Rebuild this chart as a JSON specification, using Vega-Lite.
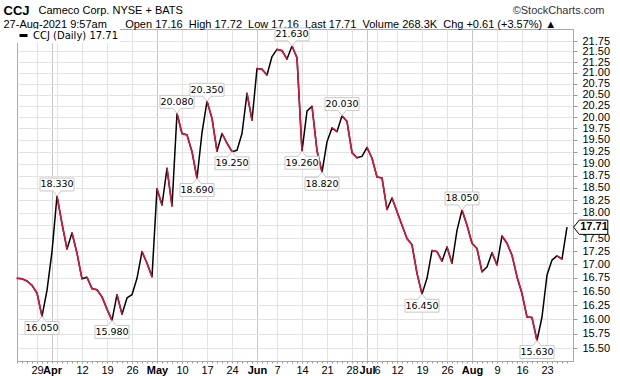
{
  "$schema": "https://vega.github.io/schema/vega-lite/v6.json",
  "width": 556,
  "height": 332,
  "autosize": {"type": "none"},
  "padding": {"left": 17, "top": 29, "right": 47, "bottom": 15},
  "background": "white",
  "datasets": {
    "prices": [
      {"i": 0, "date": "2021-03-23", "close": 16.74},
      {"i": 1, "date": "2021-03-24", "close": 16.73},
      {"i": 2, "date": "2021-03-25", "close": 16.69},
      {"i": 3, "date": "2021-03-26", "close": 16.61},
      {"i": 4, "date": "2021-03-29", "close": 16.47},
      {"i": 5, "date": "2021-03-30", "close": 16.05},
      {"i": 6, "date": "2021-03-31", "close": 16.52},
      {"i": 7, "date": "2021-04-01", "close": 17.24},
      {"i": 8, "date": "2021-04-05", "close": 18.33},
      {"i": 9, "date": "2021-04-06", "close": 17.78},
      {"i": 10, "date": "2021-04-07", "close": 17.29},
      {"i": 11, "date": "2021-04-08", "close": 17.60},
      {"i": 12, "date": "2021-04-09", "close": 17.21},
      {"i": 13, "date": "2021-04-12", "close": 16.73},
      {"i": 14, "date": "2021-04-13", "close": 16.76},
      {"i": 15, "date": "2021-04-14", "close": 16.55},
      {"i": 16, "date": "2021-04-15", "close": 16.53},
      {"i": 17, "date": "2021-04-16", "close": 16.40},
      {"i": 18, "date": "2021-04-19", "close": 16.18},
      {"i": 19, "date": "2021-04-20", "close": 15.98},
      {"i": 20, "date": "2021-04-21", "close": 16.44},
      {"i": 21, "date": "2021-04-22", "close": 16.09},
      {"i": 22, "date": "2021-04-23", "close": 16.38},
      {"i": 23, "date": "2021-04-26", "close": 16.44},
      {"i": 24, "date": "2021-04-27", "close": 16.74},
      {"i": 25, "date": "2021-04-28", "close": 17.24},
      {"i": 26, "date": "2021-04-29", "close": 17.02},
      {"i": 27, "date": "2021-04-30", "close": 16.77},
      {"i": 28, "date": "2021-05-03", "close": 18.48},
      {"i": 29, "date": "2021-05-04", "close": 18.15},
      {"i": 30, "date": "2021-05-05", "close": 18.90},
      {"i": 31, "date": "2021-05-06", "close": 18.13},
      {"i": 32, "date": "2021-05-07", "close": 20.08},
      {"i": 33, "date": "2021-05-10", "close": 19.64},
      {"i": 34, "date": "2021-05-11", "close": 19.61},
      {"i": 35, "date": "2021-05-12", "close": 19.25},
      {"i": 36, "date": "2021-05-13", "close": 18.69},
      {"i": 37, "date": "2021-05-14", "close": 19.66},
      {"i": 38, "date": "2021-05-17", "close": 20.35},
      {"i": 39, "date": "2021-05-18", "close": 19.97},
      {"i": 40, "date": "2021-05-19", "close": 19.26},
      {"i": 41, "date": "2021-05-20", "close": 19.64},
      {"i": 42, "date": "2021-05-21", "close": 19.43},
      {"i": 43, "date": "2021-05-24", "close": 19.25},
      {"i": 44, "date": "2021-05-25", "close": 19.28},
      {"i": 45, "date": "2021-05-26", "close": 19.64},
      {"i": 46, "date": "2021-05-27", "close": 20.53},
      {"i": 47, "date": "2021-05-28", "close": 19.93},
      {"i": 48, "date": "2021-06-01", "close": 21.10},
      {"i": 49, "date": "2021-06-02", "close": 21.08},
      {"i": 50, "date": "2021-06-03", "close": 20.95},
      {"i": 51, "date": "2021-06-04", "close": 21.38},
      {"i": 52, "date": "2021-06-07", "close": 21.55},
      {"i": 53, "date": "2021-06-08", "close": 21.52},
      {"i": 54, "date": "2021-06-09", "close": 21.32},
      {"i": 55, "date": "2021-06-10", "close": 21.63},
      {"i": 56, "date": "2021-06-11", "close": 21.35},
      {"i": 57, "date": "2021-06-14", "close": 19.26},
      {"i": 58, "date": "2021-06-15", "close": 20.13},
      {"i": 59, "date": "2021-06-16", "close": 20.24},
      {"i": 60, "date": "2021-06-17", "close": 19.27},
      {"i": 61, "date": "2021-06-18", "close": 18.82},
      {"i": 62, "date": "2021-06-21", "close": 19.46},
      {"i": 63, "date": "2021-06-22", "close": 19.76},
      {"i": 64, "date": "2021-06-23", "close": 19.68},
      {"i": 65, "date": "2021-06-24", "close": 20.03},
      {"i": 66, "date": "2021-06-25", "close": 19.90},
      {"i": 67, "date": "2021-06-28", "close": 19.23},
      {"i": 68, "date": "2021-06-29", "close": 19.12},
      {"i": 69, "date": "2021-06-30", "close": 19.15},
      {"i": 70, "date": "2021-07-01", "close": 19.34},
      {"i": 71, "date": "2021-07-02", "close": 19.11},
      {"i": 72, "date": "2021-07-06", "close": 18.72},
      {"i": 73, "date": "2021-07-07", "close": 18.70},
      {"i": 74, "date": "2021-07-08", "close": 18.06},
      {"i": 75, "date": "2021-07-09", "close": 18.29},
      {"i": 76, "date": "2021-07-12", "close": 18.02},
      {"i": 77, "date": "2021-07-13", "close": 17.75},
      {"i": 78, "date": "2021-07-14", "close": 17.49},
      {"i": 79, "date": "2021-07-15", "close": 17.37},
      {"i": 80, "date": "2021-07-16", "close": 16.83},
      {"i": 81, "date": "2021-07-19", "close": 16.45},
      {"i": 82, "date": "2021-07-20", "close": 16.74},
      {"i": 83, "date": "2021-07-21", "close": 17.26},
      {"i": 84, "date": "2021-07-22", "close": 17.24},
      {"i": 85, "date": "2021-07-23", "close": 17.06},
      {"i": 86, "date": "2021-07-26", "close": 17.33},
      {"i": 87, "date": "2021-07-27", "close": 17.02},
      {"i": 88, "date": "2021-07-28", "close": 17.65},
      {"i": 89, "date": "2021-07-29", "close": 18.05},
      {"i": 90, "date": "2021-07-30", "close": 17.75},
      {"i": 91, "date": "2021-08-02", "close": 17.40},
      {"i": 92, "date": "2021-08-03", "close": 17.30},
      {"i": 93, "date": "2021-08-04", "close": 16.86},
      {"i": 94, "date": "2021-08-05", "close": 16.95},
      {"i": 95, "date": "2021-08-06", "close": 17.22},
      {"i": 96, "date": "2021-08-09", "close": 16.99},
      {"i": 97, "date": "2021-08-10", "close": 17.54},
      {"i": 98, "date": "2021-08-11", "close": 17.40},
      {"i": 99, "date": "2021-08-12", "close": 17.17},
      {"i": 100, "date": "2021-08-13", "close": 16.77},
      {"i": 101, "date": "2021-08-16", "close": 16.46},
      {"i": 102, "date": "2021-08-17", "close": 16.04},
      {"i": 103, "date": "2021-08-18", "close": 16.03},
      {"i": 104, "date": "2021-08-19", "close": 15.63},
      {"i": 105, "date": "2021-08-20", "close": 16.04},
      {"i": 106, "date": "2021-08-23", "close": 16.80},
      {"i": 107, "date": "2021-08-24", "close": 17.08},
      {"i": 108, "date": "2021-08-25", "close": 17.16},
      {"i": 109, "date": "2021-08-26", "close": 17.10},
      {"i": 110, "date": "2021-08-27", "close": 17.71}
    ],
    "pivots": [
      {"i": 5, "close": 16.05, "kind": "low"},
      {"i": 19, "close": 15.98, "kind": "low"},
      {"i": 36, "close": 18.69, "kind": "low"},
      {"i": 43, "close": 19.25, "kind": "low"},
      {"i": 57, "close": 19.26, "kind": "low"},
      {"i": 61, "close": 18.82, "kind": "low"},
      {"i": 81, "close": 16.45, "kind": "low"},
      {"i": 104, "close": 15.63, "kind": "low"},
      {"i": 8, "close": 18.33, "kind": "high"},
      {"i": 32, "close": 20.08, "kind": "high"},
      {"i": 38, "close": 20.35, "kind": "high"},
      {"i": 55, "close": 21.63, "kind": "high"},
      {"i": 65, "close": 20.03, "kind": "high"},
      {"i": 89, "close": 18.05, "kind": "high"}
    ]
  },
  "resolve": {"axis": {"x": "independent", "y": "independent"}},
  "layer": [
    {
      "data": {"name": "prices"},
      "mark": {"type": "line", "strokeWidth": 1.5, "strokeJoin": "round"},
      "encoding": {
        "x": {
          "field": "i", "type": "quantitative",
          "scale": {"domain": [0, 111.2], "nice": false, "zero": false},
          "axis": {
            "orient": "bottom",
            "title": "27-Aug-2021 9:57am\u00a0\u00a0\u00a0\u00a0\u00a0\u00a0Open 17.16\u00a0\u00a0High 17.72\u00a0\u00a0Low 17.16\u00a0\u00a0Last 17.71\u00a0\u00a0Volume 268.3K\u00a0\u00a0Chg +0.61 (+3.57%) ▲",
            "titleAnchor": null, "titleAlign": "left", "titleBaseline": "alphabetic",
            "titleX": -14, "titleY": -334,
            "titleFont": "Liberation Sans", "titleFontSize": 11, "titleFontWeight": "normal", "titleColor": "#000000",
            "domain": false,
            "values": [0,1,2,3,4,5,6,7,8,9,10,11,12,13,14,15,16,17,18,19,20,21,22,23,24,25,26,27,28,29,30,31,32,33,34,35,36,37,38,39,40,41,42,43,44,45,46,47,48,49,50,51,52,53,54,55,56,57,58,59,60,61,62,63,64,65,66,67,68,69,70,71,72,73,74,75,76,77,78,79,80,81,82,83,84,85,86,87,88,89,90,91,92,93,94,95,96,97,98,99,100,101,102,103,104,105,106,107,108,109,110],
            "labelExpr": "indexof([4,7,13,18,23,28,33,38,43,48,52,57,62,67,70,72,76,81,86,91,96,101,106], datum.value) >= 0 ? ['29','Apr','12','19','26','May','10','17','24','Jun','7','14','21','28','Jul','6','12','19','26','Aug','9','16','23'][indexof([4,7,13,18,23,28,33,38,43,48,52,57,62,67,70,72,76,81,86,91,96,101,106], datum.value)] : ''",
            "labelFontWeight": {"condition": {"test": "indexof([7,28,48,70,91], datum.value) >= 0", "value": "bold"}, "value": "normal"},
            "labelFont": "Liberation Sans",
            "labelFontSize": 11,
            "labelColor": "#000000",
            "labelOverlap": false,
            "labelBound": false,
            "labelFlush": false,
            "labelPadding": 1,
            "tickSize": 2,
            "tickColor": "#9a9a9a",
            "grid": true,
            "gridColor": {"condition": {"test": "indexof([7,28,48,70,91], datum.value) >= 0", "value": "#c6c6c6"}, "value": "#e3e3e3"},
            "gridOpacity": {"condition": {"test": "indexof([4,7,8,13,18,23,28,33,38,43,48,52,57,62,67,70,72,76,81,86,91,96,101,106], datum.value) >= 0", "value": 1}, "value": 0}
          }
        },
        "y": {
          "field": "close", "type": "quantitative",
          "scale": {"type": "log", "domain": [15.28, 22.04], "nice": false, "zero": false},
          "axis": {
            "orient": "right",
            "title": "Cameco Corp. NYSE + BATS",
            "titleAngle": 0, "titleAnchor": null, "titleAlign": "left", "titleBaseline": "alphabetic",
            "titleX": -535, "titleY": -16,
            "titleFont": "Liberation Sans", "titleFontSize": 11, "titleFontWeight": "normal", "titleColor": "#000000",
            "domain": false,
            "values": [15.5,15.75,16,16.25,16.5,16.75,17,17.25,17.5,17.75,18,18.25,18.5,18.75,19,19.25,19.5,19.75,20,20.25,20.5,20.75,21,21.25,21.5,21.75],
            "labelExpr": "datum.value == 17.75 ? '' : format(datum.value, '.2f')",
            "labelFont": "Liberation Sans",
            "labelFontSize": 11,
            "labelColor": "#000000",
            "labelOverlap": false,
            "labelBound": false,
            "labelFlush": false,
            "labelPadding": 5,
            "tickSize": 4,
            "tickColor": "#9a9a9a",
            "grid": true,
            "gridColor": "#e3e3e3"
          }
        },
        "color": {
          "datum": "CCJ (Daily) 17.71",
          "scale": {"range": ["#000000"]},
          "legend": {
            "title": null,
            "orient": "top-left",
            "offset": 0,
            "padding": 1,
            "fillColor": "white",
            "symbolType": "stroke",
            "symbolSize": 64,
            "symbolStrokeWidth": 3,
            "labelFont": "DejaVu Sans",
            "labelFontSize": 10,
            "labelColor": "#000000",
            "labelOffset": 4
          }
        }
      }
    },
    {
      "data": {"name": "prices"},
      "transform": [
        {"window": [{"op": "lag", "field": "close", "as": "prev"}, {"op": "lag", "field": "i", "as": "pi"}], "sort": [{"field": "i"}]},
        {"filter": "datum.prev != null && datum.close < datum.prev"}
      ],
      "mark": {"type": "rule", "color": "#d8173d", "strokeWidth": 1.6, "strokeCap": "round"},
      "encoding": {
        "x": {
          "field": "pi", "type": "quantitative",
          "scale": {"domain": [0, 111.2], "nice": false, "zero": false},
          "axis": {
            "orient": "top", "labels": false, "ticks": false, "domain": false, "grid": false,
            "title": "©StockCharts.com",
            "titleAlign": "right", "titleAnchor": null, "titleBaseline": "alphabetic",
            "titleX": 587, "titleY": -16,
            "titleFont": "Liberation Sans", "titleFontSize": 11, "titleFontWeight": "normal", "titleColor": "#333333"
          }
        },
        "x2": {"field": "i"},
        "y": {
          "field": "prev", "type": "quantitative",
          "scale": {"type": "log", "domain": [15.28, 22.04], "nice": false, "zero": false},
          "axis": {
            "orient": "left", "labels": false, "ticks": false, "domain": false, "grid": false,
            "title": "CCJ",
            "titleAngle": 0, "titleAnchor": null, "titleAlign": "left", "titleBaseline": "alphabetic",
            "titleX": -14, "titleY": -15,
            "titleFont": "Liberation Sans", "titleFontSize": 13, "titleFontWeight": "bold", "titleColor": "#000000"
          }
        },
        "y2": {"field": "close"}
      }
    },
    {
      "data": {"name": "pivots"},
      "transform": [{"filter": "datum.kind == 'low'"}],
      "mark": {"type": "point", "shape": "M0,0L0.24,0.3L1,0.3L1,1.06L-1,1.06L-1,0.3L-0.24,0.3Z", "size": 1156, "filled": true, "fill": "white", "stroke": "#c8c8c8", "strokeWidth": 1, "opacity": 1},
      "encoding": {
        "x": {"field": "i", "type": "quantitative", "scale": {"domain": [0, 111.2], "nice": false, "zero": false}, "axis": null},
        "y": {"field": "close", "type": "quantitative", "scale": {"type": "log", "domain": [15.28, 22.04], "nice": false, "zero": false}, "axis": null}
      }
    },
    {
      "data": {"name": "pivots"},
      "transform": [{"filter": "datum.kind == 'high'"}],
      "mark": {"type": "point", "shape": "M0,0L0.24,-0.3L1,-0.3L1,-1.06L-1,-1.06L-1,-0.3L-0.24,-0.3Z", "size": 1156, "filled": true, "fill": "white", "stroke": "#c8c8c8", "strokeWidth": 1, "opacity": 1},
      "encoding": {
        "x": {"field": "i", "type": "quantitative", "scale": {"domain": [0, 111.2], "nice": false, "zero": false}, "axis": null},
        "y": {"field": "close", "type": "quantitative", "scale": {"type": "log", "domain": [15.28, 22.04], "nice": false, "zero": false}, "axis": null}
      }
    },
    {
      "data": {"name": "pivots"},
      "transform": [{"filter": "datum.kind == 'low'"}],
      "mark": {"type": "text", "dy": 11.8, "baseline": "middle", "align": "center", "font": "DejaVu Sans", "fontSize": 9.5, "color": "#000000"},
      "encoding": {
        "x": {"field": "i", "type": "quantitative", "scale": {"domain": [0, 111.2], "nice": false, "zero": false}, "axis": null},
        "y": {"field": "close", "type": "quantitative", "scale": {"type": "log", "domain": [15.28, 22.04], "nice": false, "zero": false}, "axis": null},
        "text": {"field": "close", "type": "quantitative", "format": ".3f"}
      }
    },
    {
      "data": {"name": "pivots"},
      "transform": [{"filter": "datum.kind == 'high'"}],
      "mark": {"type": "text", "dy": -11.6, "baseline": "middle", "align": "center", "font": "DejaVu Sans", "fontSize": 9.5, "color": "#000000"},
      "encoding": {
        "x": {"field": "i", "type": "quantitative", "scale": {"domain": [0, 111.2], "nice": false, "zero": false}, "axis": null},
        "y": {"field": "close", "type": "quantitative", "scale": {"type": "log", "domain": [15.28, 22.04], "nice": false, "zero": false}, "axis": null},
        "text": {"field": "close", "type": "quantitative", "format": ".3f"}
      }
    },
    {
      "data": {"name": "prices"},
      "transform": [{"filter": "datum.i == 110"}],
      "mark": {"type": "point", "shape": "M0.39,0L0.72,-0.42L2.4,-0.42L2.4,0.42L0.72,0.42Z", "size": 1156, "filled": true, "fill": "white", "stroke": "#000000", "strokeWidth": 1, "opacity": 1},
      "encoding": {
        "x": {"field": "i", "type": "quantitative", "scale": {"domain": [0, 111.2], "nice": false, "zero": false}, "axis": null},
        "y": {"field": "close", "type": "quantitative", "scale": {"type": "log", "domain": [15.28, 22.04], "nice": false, "zero": false}, "axis": null}
      }
    },
    {
      "data": {"name": "prices"},
      "transform": [{"filter": "datum.i == 110"}],
      "mark": {"type": "text", "dx": 27, "baseline": "middle", "align": "center", "font": "Liberation Sans", "fontSize": 11, "fontWeight": "bold", "color": "#000000"},
      "encoding": {
        "x": {"field": "i", "type": "quantitative", "scale": {"domain": [0, 111.2], "nice": false, "zero": false}, "axis": null},
        "y": {"field": "close", "type": "quantitative", "scale": {"type": "log", "domain": [15.28, 22.04], "nice": false, "zero": false}, "axis": null},
        "text": {"field": "close", "type": "quantitative", "format": ".2f"}
      }
    }
  ],
  "config": {
    "view": {"stroke": "#a9a9a9", "strokeWidth": 1}
  }
}
